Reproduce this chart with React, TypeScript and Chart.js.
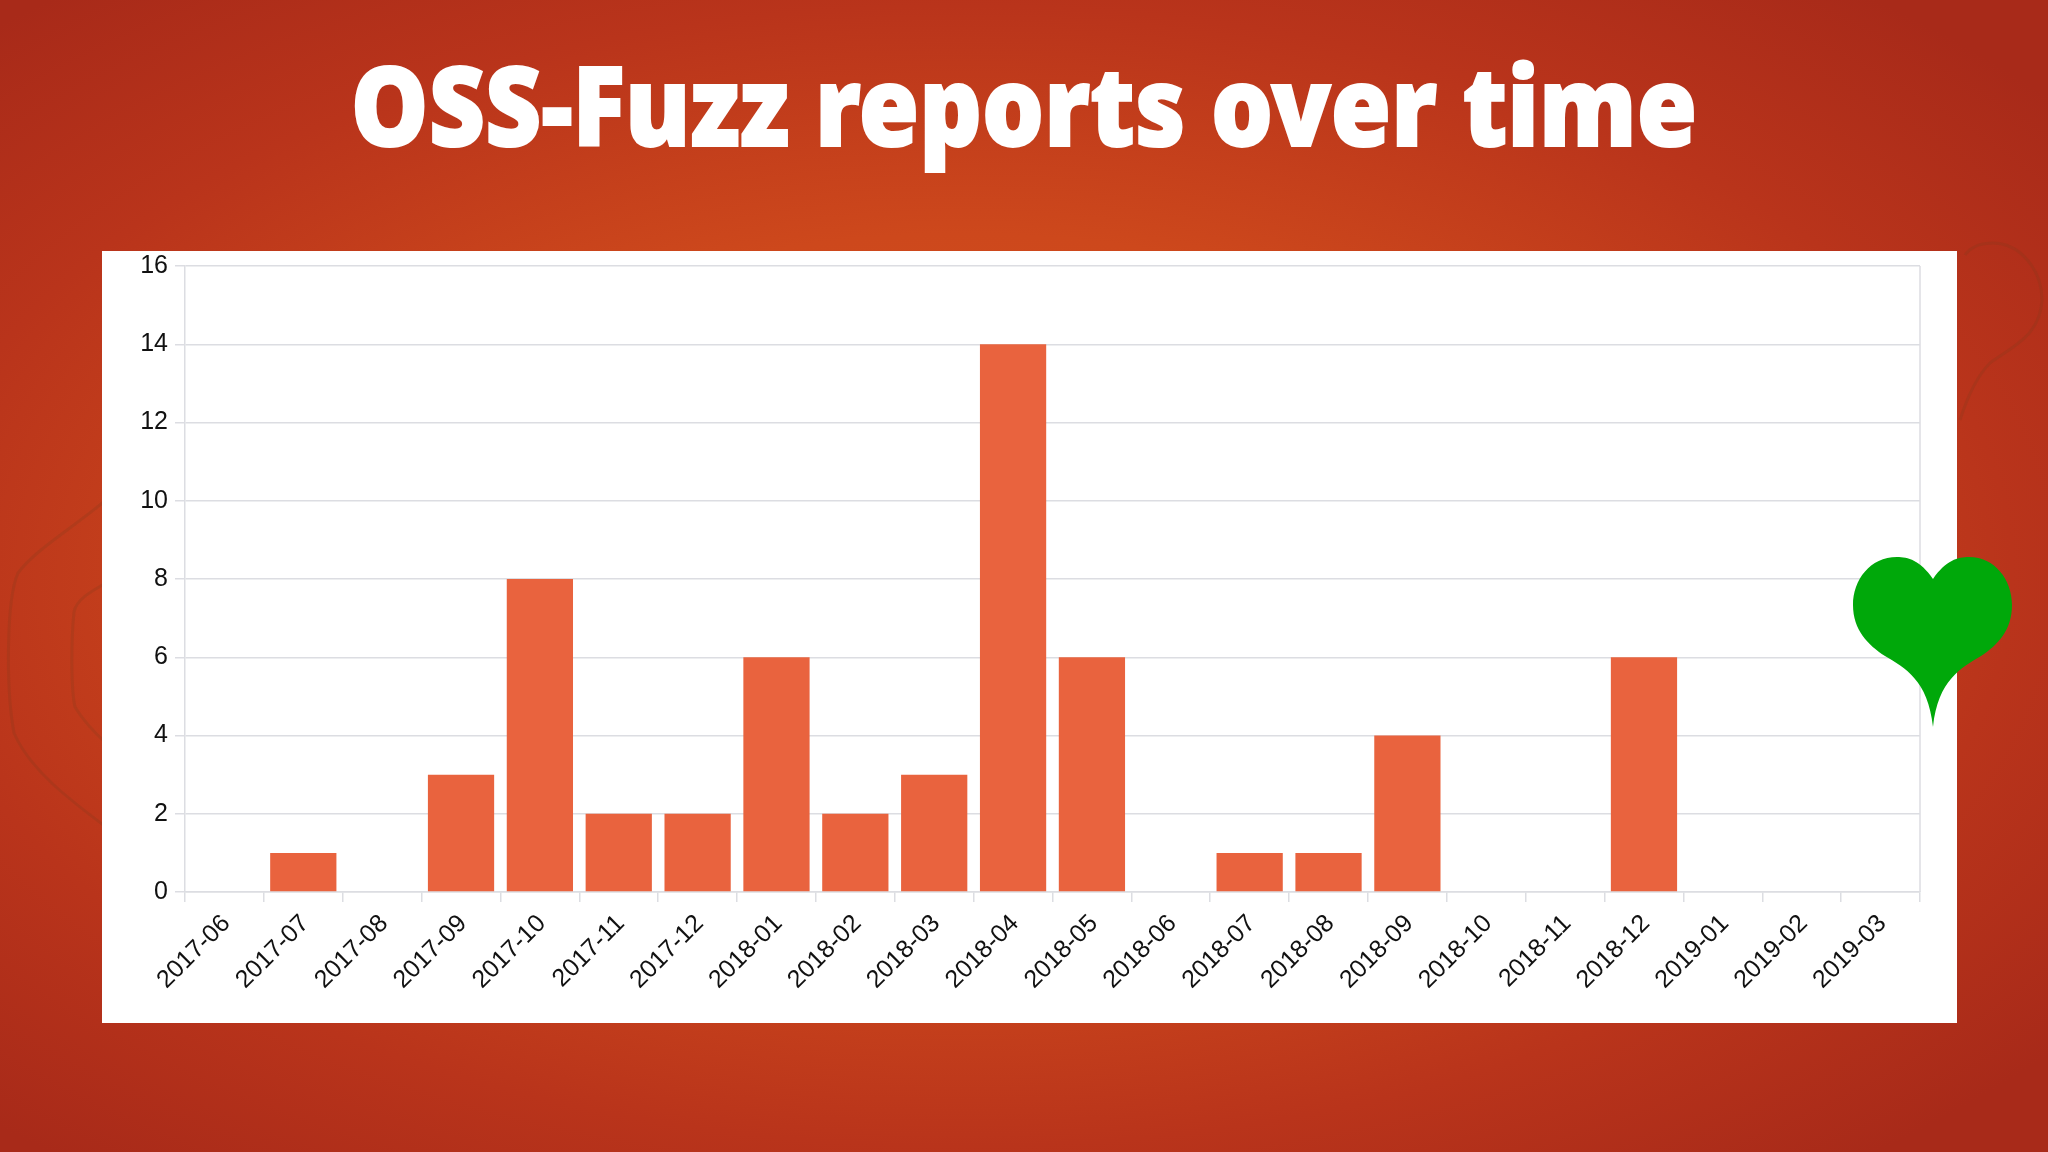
import { useEffect, useRef } from "react";
import { Chart, registerables } from "chart.js";
Chart.register(...registerables);

const months = [
  "2017-06", "2017-07", "2017-08", "2017-09", "2017-10", "2017-11", "2017-12",
  "2018-01", "2018-02", "2018-03", "2018-04", "2018-05", "2018-06", "2018-07",
  "2018-08", "2018-09", "2018-10", "2018-11", "2018-12", "2019-01", "2019-02", "2019-03",
];
const reports = [0, 1, 0, 3, 8, 2, 2, 6, 2, 3, 14, 6, 0, 1, 1, 4, 0, 0, 6, 0, 0, 0];
const yMax = 16;
const yStep = 2;

const gridColor = "#dcdde2";

// the frame on the right has no axis of its own
const rightEdge = {
  id: "rightEdge",
  beforeDatasetsDraw(chart: Chart) {
    const { ctx, chartArea } = chart;
    ctx.save();
    ctx.strokeStyle = gridColor;
    ctx.lineWidth = 1.5;
    ctx.beginPath();
    ctx.moveTo(chartArea.right, chartArea.top);
    ctx.lineTo(chartArea.right, chartArea.bottom);
    ctx.stroke();
    ctx.restore();
  },
};

function ReportsChart() {
  const canvasRef = useRef<HTMLCanvasElement>(null);

  useEffect(() => {
    if (!canvasRef.current) return;
    const font = { family: "'Liberation Sans'", size: 25 };

    const chart = new Chart(canvasRef.current, {
      type: "bar",
      data: {
        labels: months,
        datasets: [{
          label: "Reports",
          data: reports,
          backgroundColor: "#e9633e",
          barPercentage: 1,
          categoryPercentage: 0.84,
        }],
      },
      options: {
        animation: false,
        responsive: false,
        layout: { padding: { top: 15, right: 37, left: 0, bottom: 0 } },
        plugins: { legend: { display: false }, tooltip: { enabled: false } },
        scales: {
          x: {
            grid: { drawOnChartArea: false, color: gridColor, tickLength: 10, lineWidth: 1.5 },
            border: { color: gridColor, width: 1.5 },
            ticks: { font, color: "#111", maxRotation: 45, minRotation: 45, autoSkip: false, labelOffset: 2, padding: 7 },
            afterFit: (scale) => { scale.height = 131; },
          },
          y: {
            min: 0,
            max: yMax,
            grid: { color: gridColor, tickLength: 10, lineWidth: 1.5 },
            border: { color: gridColor, width: 1.5 },
            ticks: { font, color: "#111", stepSize: yStep, padding: 7 },
            afterFit: (scale) => {
              scale.width = 83;
              scale.paddingTop = 0;
              scale.paddingBottom = 0;
            },
          },
        },
      },
      plugins: [rightEdge],
    });

    return () => chart.destroy();
  }, []);

  return <canvas ref={canvasRef} width={1855} height={772} style={{ display: "block" }} />;
}

export default function App() {
  return (
    <div style={{
      position: "fixed", left: 0, top: 0, width: 2048, height: 1152, overflow: "hidden",
      background: "radial-gradient(ellipse 1400px 760px at 47% 50%, #d6541c 0%, #cd481c 45%, #b9341b 75%, #a82a19 100%)",
    }}>
      <svg width={2048} height={1152} style={{ position: "absolute", left: 0, top: 0 }}>
        <g fill="none" stroke="#7a3a1c" strokeOpacity={0.22} strokeWidth={3}>
          <path d="M106 500 C70 530 35 550 18 573 C6 600 6 690 14 733 C30 770 70 800 106 827" />
          <path d="M106 583 C90 592 76 600 74 612 C71 640 71 690 75 707 C84 722 95 733 106 743" />
          <path d="M1960 420 C1968 395 1978 375 1990 363 C2015 345 2040 335 2042 300 C2042 270 2020 243 1993 243 C1980 243 1970 248 1965 255" />
        </g>
      </svg>
      <div style={{
        position: "absolute", left: 0, width: 2048, top: 28, textAlign: "center", color: "#fff",
        fontFamily: "'Noto Sans'", fontWeight: 900, fontSize: 110, lineHeight: "150px", whiteSpace: "nowrap",
        transform: "scaleX(0.888)", WebkitTextStroke: "2px #fff",
      }}>
        OSS-Fuzz reports over time
      </div>
      <div style={{ position: "absolute", left: 102, top: 251, width: 1855, height: 772, background: "#fff" }}>
        <ReportsChart />
      </div>
      <svg width={2048} height={1152} style={{ position: "absolute", left: 0, top: 0 }}>
        <path
          fill="#00a80a"
          d="M1933 579 C1920 560 1908 557 1897 557 C1870 557 1853 580 1853 605 C1853 630 1868 645 1885 656 C1905 668 1928 680 1933 727 C1938 680 1961 668 1981 656 C1998 645 2012 630 2012 605 C2012 580 1995 557 1969 557 C1958 557 1946 560 1933 579 Z"
        />
      </svg>
    </div>
  );
}
